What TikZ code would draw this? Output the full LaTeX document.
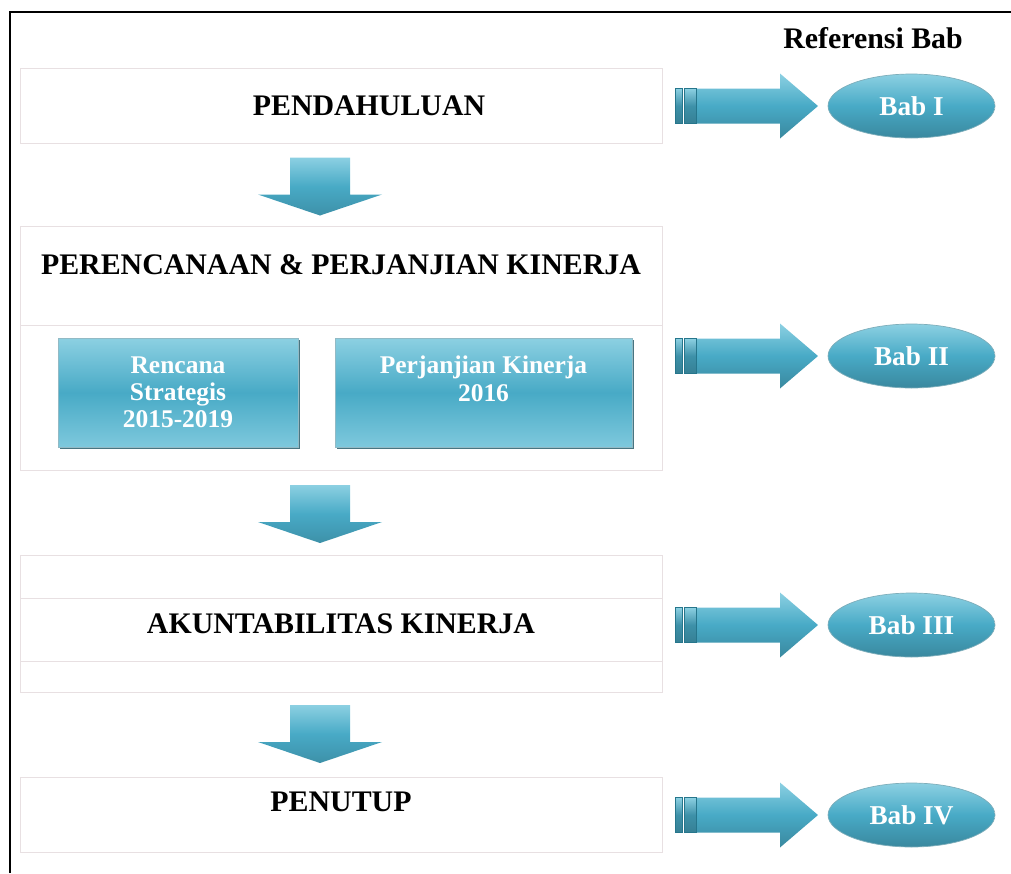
\documentclass[tikz,border=0pt]{standalone}
\usepackage{fontspec}
\setmainfont{Liberation Serif}
\usepackage{tikz}
\usetikzlibrary{shapes.geometric, positioning, shadows}

\definecolor{babblue}{RGB}{72,170,198}
\definecolor{bablight}{RGB}{140,208,226}
\definecolor{babdark}{RGB}{38,118,140}
\definecolor{boxline}{RGB}{232,224,226}

\tikzset{
  section/.style={draw=boxline, fill=white, minimum width=12.84cm, inner sep=0pt},
  title/.style={font=\fontsize{17}{20}\selectfont\bfseries},
  subbox/.style={draw=babdark!50, top color=bablight, bottom color=bablight!80!babblue,
    middle color=babblue, minimum height=2.18cm, text=white, align=center,
    font=\fontsize{14.5}{15.5}\selectfont\bfseries,
    drop shadow={shadow xshift=1.3pt, shadow yshift=-1.3pt, fill=babdark!70!black, opacity=0.8}},
  chapter/.style={ellipse, minimum width=3.34cm, minimum height=1.28cm, draw=babdark!60,
    top color=bablight, bottom color=babblue!80!black, middle color=babblue, text=white,
    font=\fontsize{15.5}{18}\selectfont\bfseries},
  pics/flowarrow/.style={code={
    \shade[top color=bablight, bottom color=babblue!85!black, middle color=babblue]
      (-30,-29) -- (30,-29) -- (30,8) -- (62,8) -- (0,29) -- (-62,8) -- (-30,8) -- cycle;
  }},
  pics/babarrow/.style={code={
    \shade[top color=bablight, bottom color=babblue!75!black, middle color=babblue!85!black, draw=babdark]
      (0,-17.5) rectangle (7,17.5) (9,-17.5) rectangle (21,17.5);
    \shade[top color=bablight, bottom color=babblue!80!black, middle color=babblue]
      (22,-17.5) -- (105,-17.5) -- (105,-32.5) -- (143,0) -- (105,32.5) -- (105,17.5) -- (22,17.5) -- cycle;
  }},
}

\begin{document}
\begin{tikzpicture}[x=0.02cm, y=-0.02cm]
  \useasboundingbox (0,0) rectangle (1011,873);
  \draw[line width=1.3pt] (10,873) -- (10,12) -- (1011,12);
  \node[title] (ref) at (873,38) {Referensi Bab};

  % left column
  \node[section, minimum height=1.5cm] (pend) at (341,105.5) {};
  \node[title] (pendtext) at (369,106) {PENDAHULUAN};
  \pic at (320,186.5) {flowarrow};

  \node[section, minimum height=1.98cm] (plan) at (341,275.5) {};
  \node[title] (plantext) at (341,265) {PERENCANAAN \& PERJANJIAN KINERJA};
  \node[section, minimum height=2.9cm] (planbody) at (341,397.5) {};
  \node[subbox, minimum width=4.8cm] (renstra) at (178,392.5) {Rencana\\Strategis\\2015-2019};
  \node[subbox, minimum width=5.94cm] (pk) at (483.5,392.5) {Perjanjian Kinerja\\2016\\\phantom{2016}};
  \pic at (320,514) {flowarrow};

  \node[section, minimum height=2.74cm] (akun) at (341,623.5) {};
  \node[section, minimum height=1.26cm] (akunband) at (341,629.5) {};
  \node[title] (akuntext) at (341,624) {AKUNTABILITAS KINERJA};
  \pic at (320,734) {flowarrow};

  \node[section, minimum height=1.5cm] (tutup) at (341,814.5) {};
  \node[title] (tutuptext) at (341,802) {PENUTUP};

  % right column
  \foreach \y/\bab/\name in {106/I/bab1, 356/II/bab2, 625/III/bab3, 815/IV/bab4}
    {\pic at (675,\y) {babarrow};
     \node[chapter] (\name) at (911.5,\y) {Bab \bab};}
\end{tikzpicture}
\end{document}
